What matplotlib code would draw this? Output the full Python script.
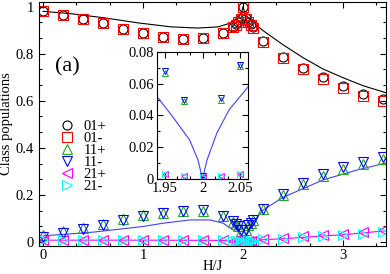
import numpy as np
import matplotlib.pyplot as plt
from matplotlib.ticker import MultipleLocator, AutoMinorLocator

plt.rcParams['font.family'] = ['Liberation Serif', 'DejaVu Serif']
plt.rcParams['mathtext.fontset'] = 'stix'

# field values of the simulated points
h = [0, 0.2, 0.4, 0.6, 0.8, 1.0, 1.2, 1.4, 1.6, 1.8, 1.9, 1.925, 1.95, 1.975, 2.0,
     2.025, 2.05, 2.075, 2.1, 2.2, 2.4, 2.6, 2.8, 3.0, 3.2, 3.4]

pop_01p = [0.983, 0.966, 0.949, 0.932, 0.906, 0.889, 0.872, 0.864, 0.868, 0.889, 0.915,
           0.925, 0.935, 0.950, 1.000, 0.950, 0.935, 0.925, 0.912, 0.855, 0.787, 0.740,
           0.700, 0.664, 0.630, 0.608]
pop_01m = [0.982, 0.965, 0.948, 0.931, 0.905, 0.888, 0.871, 0.863, 0.867, 0.888, 0.913,
           0.923, 0.933, 0.948, 1.000, 0.948, 0.933, 0.922, 0.908, 0.850, 0.780, 0.733,
           0.692, 0.656, 0.622, 0.598]
pop_11p = [0.030, 0.045, 0.060, 0.077, 0.097, 0.113, 0.124, 0.133, 0.134, 0.110, 0.087,
           0.076, 0.067, 0.049, 0.001, 0.050, 0.071, 0.082, 0.093, 0.139, 0.200, 0.247,
           0.281, 0.311, 0.333, 0.352]
pop_11m = [0.022, 0.040, 0.055, 0.072, 0.094, 0.111, 0.123, 0.133, 0.135, 0.112, 0.088,
           0.077, 0.068, 0.050, 0.002, 0.051, 0.072, 0.083, 0.095, 0.142, 0.205, 0.252,
           0.287, 0.318, 0.340, 0.360]
pop_21p = [0.010, 0.010, 0.010, 0.010, 0.010, 0.010, 0.010, 0.010, 0.009, 0.008, 0.006,
           0.005, 0.003, 0.002, 0.001, 0.002, 0.003, 0.005, 0.006, 0.013, 0.018, 0.024,
           0.030, 0.036, 0.043, 0.052]
pop_21m = [0.009, 0.009, 0.009, 0.009, 0.009, 0.009, 0.009, 0.009, 0.008, 0.007, 0.005,
           0.004, 0.003, 0.002, 0.001, 0.002, 0.003, 0.004, 0.005, 0.011, 0.015, 0.020,
           0.025, 0.030, 0.036, 0.044]

# theory curves
h_01 = [0, 0.28, 0.62, 0.95, 1.28, 1.55, 1.75, 1.88, 1.95, 1.98, 2.0, 2.02, 2.07, 2.2,
        2.4, 2.6, 2.8, 3.0, 3.2, 3.43]
th_01 = [0.980, 0.970, 0.952, 0.931, 0.914, 0.909, 0.914, 0.931, 0.952, 0.970, 1.0, 0.968,
         0.945, 0.898, 0.838, 0.783, 0.735, 0.698, 0.664, 0.634]
h_11 = [0, 0.5, 1.0, 1.2, 1.47, 1.67, 1.8, 1.9, 1.94, 1.97, 1.99, 2.0, 2.01, 2.03, 2.06,
        2.1, 2.2, 2.4, 2.8, 3.14, 3.43]
th_11 = [0.026, 0.042, 0.066, 0.080, 0.094, 0.094, 0.080, 0.052, 0.052, 0.030, 0.015, 0.0,
         0.015, 0.029, 0.058, 0.085, 0.136, 0.190, 0.264, 0.306, 0.336]
h_21 = [0, 1.0, 1.8, 2.0, 2.2, 2.4, 2.8, 3.0, 3.43]
th_21 = [0.008, 0.008, 0.007, 0.0, 0.010, 0.014, 0.026, 0.031, 0.048]

# inset zoom of the 11 curve close to H/J = 2
h_in = [1.94, 1.961, 1.983, 1.994, 2.0, 2.006, 2.019, 2.035, 2.06]
th_in = [0.052, 0.039, 0.0246, 0.012, 0.0, 0.012, 0.029, 0.0435, 0.058]

series = [
    ('01+', pop_01p, 'o', 'black'),
    ('01-', pop_01m, 's', 'red'),
    ('11+', pop_11p, '^', '#22aa22'),
    ('11-', pop_11m, 'v', 'blue'),
    ('21+', pop_21p, '<', 'magenta'),
    ('21-', pop_21m, '>', 'cyan'),
]

fig = plt.figure(figsize=(3.9, 2.74), dpi=100)
ax = fig.add_axes([0.100, 0.102, 0.890, 0.891])

ax.plot(h_01, th_01, color='black', lw=0.8)
ax.plot(h_11, th_11, color='#4040ff', lw=0.8)
ax.plot(h_21, th_21, color='magenta', lw=0.8)
for lab, vals, m, c in series:
    ax.plot(h, vals, ls='none', marker=m, ms=6.5, mfc='none', mec=c, mew=0.8, label=lab)

ax.set_xlim(-0.04, 3.43)
ax.set_ylim(-0.017, 1.02)
ax.xaxis.set_major_locator(MultipleLocator(1))
ax.xaxis.set_minor_locator(AutoMinorLocator(3))
ax.yaxis.set_major_locator(MultipleLocator(0.2))
ax.yaxis.set_minor_locator(AutoMinorLocator(3))
ax.tick_params(which='both', direction='in', top=True, right=True, labelsize=10.5)
ax.tick_params(which='major', length=4, width=0.8)
ax.tick_params(which='minor', length=2.5, width=0.8)
ax.tick_params(axis='x', pad=2)
ax.set_yticks([0, 0.2, 0.4, 0.6, 0.8, 1.0], ['0', '0.2', '0.4', '0.6', '0.8', '1'])
ax.set_xlabel('H/J', fontsize=10.5, labelpad=-1)
ax.set_ylabel('Class populations', fontsize=10.5, labelpad=2)
ax.text(0.046, 0.715, '(a)', transform=ax.transAxes, fontsize=16, va='baseline')
ax.legend(loc='upper left', bbox_to_anchor=(0.035, 0.545), frameon=False, fontsize=10.5,
          handlelength=1.2, handletextpad=0.5, labelspacing=-0.09, borderpad=0)

# inset
ins = fig.add_axes([0.4026, 0.347, 0.2333, 0.463])
ins.plot(h_in, th_in, color='#4040ff', lw=0.8)
ins.plot([1.94, 2.06], [0, 0], color='magenta', lw=0.8)
for lab, vals, m, c in series:
    ins.plot(h, vals, ls='none', marker=m, ms=4, mfc='none', mec=c, mew=0.7)
ins.set_xlim(1.94, 2.06)
ins.set_ylim(0, 0.08)
ins.set_xticks([1.95, 2.0, 2.05], ['1.95', '2', '2.05'])
ins.set_yticks([0, 0.02, 0.04, 0.06, 0.08], ['0', '0.02', '0.04', '0.06', '0.08'])
ins.xaxis.set_minor_locator(AutoMinorLocator(3))
ins.yaxis.set_minor_locator(AutoMinorLocator(2))
ins.tick_params(which='both', direction='in', top=True, right=True, labelsize=10.5, pad=2)
ins.tick_params(which='major', length=4, width=0.8)
ins.tick_params(which='minor', length=2.5, width=0.8)

fig.savefig('out.png', dpi=100)
